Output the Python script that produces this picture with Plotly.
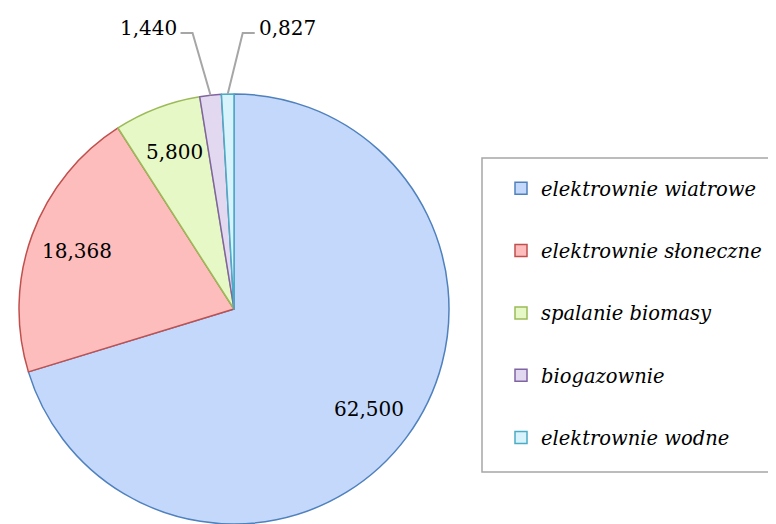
import math
import plotly.graph_objects as go

# source names and their values
sources = ["elektrownie wiatrowe", "elektrownie słoneczne", "spalanie biomasy",
           "biogazownie", "elektrownie wodne"]
values = [62.500, 18.368, 5.800, 1.440, 0.827]
fills = ["#c4d8fb", "#fdbdbd", "#e6f8c6", "#e2d8f0", "#d8f3fb"]
edges = ["#4f81bd", "#c0504d", "#9bbb59", "#8064a2", "#4bacc6"]

# the page puts the figure 8px in from the top-left corner
OFF = 8
W, H = 776 - OFF, 524 - OFF
cx, cy, R = 234, 309, 215   # pie centre / radius in page pixels


def px(x):
    return (x - OFF) / W


def py(y):
    return 1 - (y - OFF) / H


n_inside = 3
label_font = dict(family="DejaVu Serif", size=20, color="black")

fig = go.Figure()
fig.add_trace(go.Pie(
    labels=sources, values=values, sort=False, direction="clockwise", rotation=0,
    marker=dict(colors=fills, line=dict(color=edges, width=1.5)),
    textinfo="none",
    domain=dict(x=[px(cx - R), px(cx + R)], y=[py(cy + R), py(cy - R)]),
    showlegend=False, hoverinfo="label+value",
))

# legend entries as dummy traces so the spacing can be set
for i, (name, fc, ec) in enumerate(zip(sources, fills, edges)):
    fig.add_trace(go.Scatter(
        x=[None], y=[None], mode="markers", name=name, legendgroup=str(i),
        marker=dict(symbol="square", size=12, color=fc, line=dict(color=ec, width=1.5)),
    ))

# value labels: inside for the big slices, leader lines for the thin ones
total = sum(values)
shapes = []
annotations = []
cum = 0
for i, v in enumerate(values):
    mid = (cum + v / 2) / total * 2 * math.pi
    cum += v
    label = f"{v:.3f}".replace(".", ",")
    if i < n_inside:
        lx = cx + 0.78 * R * math.sin(mid)
        ly = cy - 0.78 * R * math.cos(mid)
        annotations.append(dict(
            text=label, x=px(lx), y=py(ly), xref="paper", yref="paper",
            xanchor="center", yanchor="middle", showarrow=False, font=label_font,
        ))
        continue
    ex, ey = cx + R * math.sin(mid), cy - R * math.cos(mid)
    if i == 3:
        elbow, end, anchor, tx = ex - 18, ex - 30, "right", ex - 32
    else:
        elbow, end, anchor, tx = ex + 15, ex + 27, "left", ex + 29
    shapes.append(dict(
        type="path", xref="paper", yref="paper",
        path=f"M {px(end)},{py(33)} L {px(elbow)},{py(33)} L {px(ex)},{py(ey)}",
        line=dict(color="#a6a6a6", width=2),
    ))
    annotations.append(dict(
        text=label, x=px(tx), y=py(28), xref="paper", yref="paper",
        xanchor=anchor, yanchor="middle", showarrow=False, font=label_font,
    ))

# legend frame
shapes.append(dict(type="rect", xref="paper", yref="paper",
                   x0=px(482), x1=px(773), y0=py(158), y1=py(472),
                   line=dict(color="#a6a6a6", width=1.5), layer="below"))

fig.update_layout(
    width=W, height=H, margin=dict(l=0, r=0, t=0, b=0),
    paper_bgcolor="white", plot_bgcolor="white",
    xaxis=dict(visible=False), yaxis=dict(visible=False),
    shapes=shapes, annotations=annotations,
    legend=dict(
        x=px(501), y=py(169), xanchor="left", yanchor="top",
        traceorder="grouped", tracegroupgap=34,
        bgcolor="rgba(0,0,0,0)", borderwidth=0,
        font=dict(family="DejaVu Serif", size=19.5, color="black", style="italic"),
    ),
)

fig.write_html("out.html")
